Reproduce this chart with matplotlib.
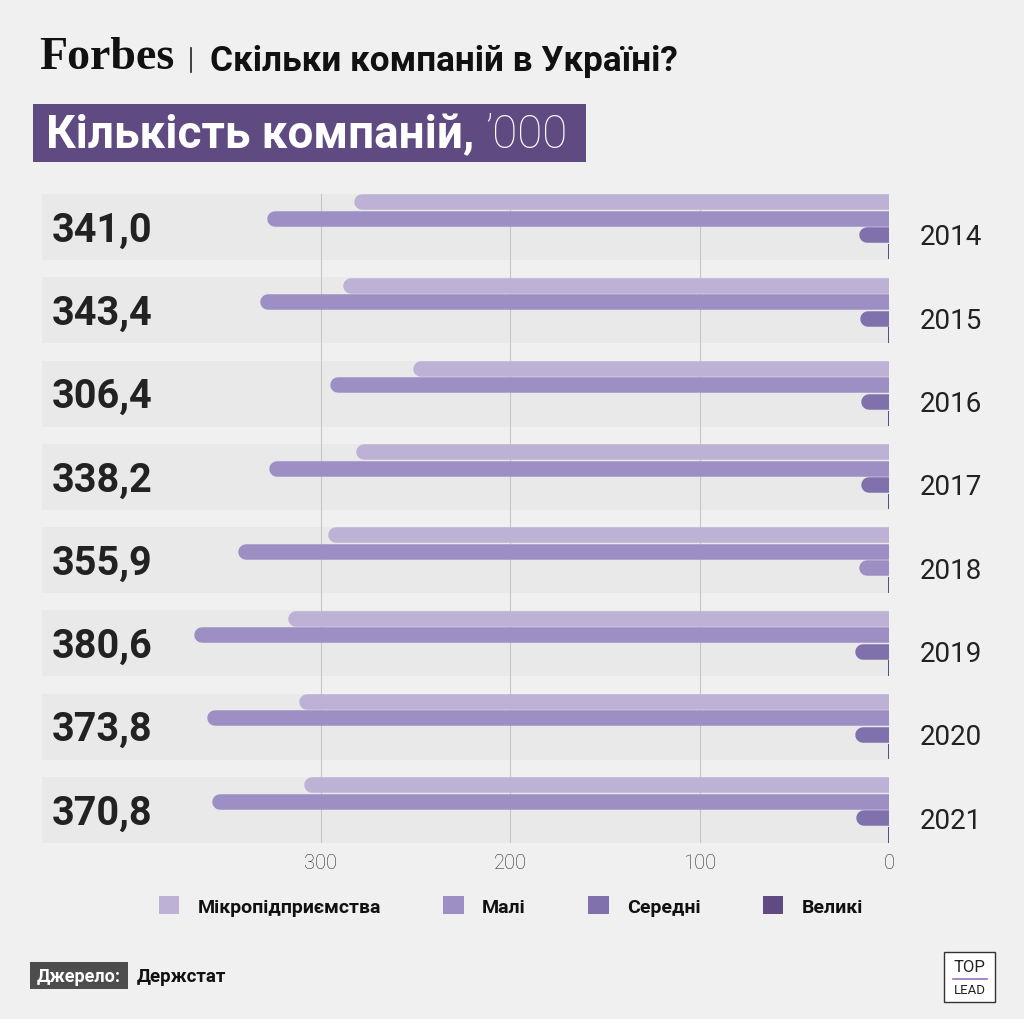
import matplotlib
matplotlib.use("Agg")
import matplotlib.pyplot as plt
from matplotlib.patches import Patch, Rectangle
from matplotlib.lines import Line2D
import matplotlib.transforms as mtransforms

# ---------------- data ----------------
years = ['2014', '2015', '2016', '2017', '2018', '2019', '2020', '2021']
totals = [341.0, 343.4, 306.4, 338.2, 355.9, 380.6, 373.8, 370.8]
micro = [282, 288, 251, 281, 296, 317, 311.5, 308.5]
small = [328, 332, 295, 327, 343.5, 366.5, 360, 357]
medium = [15.6, 15.1, 14.6, 14.9, 15.9, 17.8, 17.6, 17.3]
large = [0.5, 0.4, 0.4, 0.4, 0.45, 0.5, 0.5, 0.5]
series_names = ['Мікропідприємства', 'Малі', 'Середні', 'Великі']
xticks = [300, 200, 100, 0]

# ---------------- style ----------------
BG = '#f0f0f0'
BAND = '#e9e9e9'
COLORS = ['#bdb1d6', '#9d8fc4', '#8070ac', '#5f4b82']
medium_color_override = {'2018': COLORS[1]}
FONT = 'Roboto'

W, H, DPI = 1024, 1020, 100
fig = plt.figure(figsize=(W / DPI, H / DPI), dpi=DPI, facecolor=BG)

def fx(px):
    return px / W

def fy(py):
    return 1 - py / H

ax_l, ax_r, ax_t, ax_b = 42, 889, 195, 844
ax = fig.add_axes([fx(ax_l), fy(ax_b), fx(ax_r - ax_l), (ax_b - ax_t) / H])
ax.set_facecolor('none')
XMAX = 447
ax.set_xlim(XMAX, 0)
half = 0.396
ax.set_ylim(len(years) - 1 + half, -half)
for s in ax.spines.values():
    s.set_visible(False)

bar_h = 0.186
offsets = [-0.297, -0.099, 0.099, 0.297]
lw_px = 15.5
lw_pt = lw_px * 72 / DPI
px_per_unit = (ax_r - ax_l) / XMAX
r_data = (lw_px / 2) / px_per_unit

for i, y in enumerate(years):
    ax.axhspan(i - half, i + half, color=BAND, lw=0, zorder=0)

for v in [300, 200, 100]:
    ax.axvline(v, color='#c6c6c6', lw=0.8, zorder=1)

tr = mtransforms.blended_transform_factory(fig.transFigure, ax.transData)
for i, y in enumerate(years):
    vals = [micro[i], small[i], medium[i]]
    cols = [COLORS[0], COLORS[1], medium_color_override.get(y, COLORS[2])]
    for k in range(3):
        ax.plot([vals[k] - r_data, -3 * r_data], [i + offsets[k]] * 2,
                color=cols[k], lw=lw_pt, solid_capstyle='round', zorder=3)
    ax.barh(i + offsets[3], large[i], height=bar_h, color=COLORS[3], lw=0, zorder=3)

    ax.text(fx(52), i + 0.03, f'{totals[i]:.1f}'.replace('.', ','), transform=tr,
            fontsize=28.5, fontweight='bold', family=FONT, color='#222222',
            ha='left', va='center', zorder=5)
    ax.text(fx(951), i + 0.12, y, transform=tr,
            fontsize=20, family=FONT, color='#222222', ha='center', va='center')

ax.set_yticks([])
ax.set_xticks(xticks)
ax.set_xticklabels([str(t) for t in xticks], fontsize=14.5, family=FONT,
                   fontweight='light', color='#2a2a2a')
ax.tick_params(axis='x', length=0, pad=7)

# ---------------- header ----------------
fig.text(fx(39), fy(58), 'Forbes', family='Liberation Serif', fontweight='bold',
         fontsize=33, color='#111111', ha='left', va='center')
fig.add_artist(Line2D([fx(191), fx(191)], [fy(49), fy(73)], color='#222222', lw=1.2))
fig.text(fx(210), fy(61), 'Скільки компаній в Україні?', family=FONT,
         fontweight='bold', fontsize=25.3, color='#111111', ha='left', va='center')

fig.add_artist(Rectangle((fx(33), fy(163)), fx(586 - 33), (163 - 105) / H,
                         transform=fig.transFigure, color='#5f4b82', lw=0))
t1 = fig.text(fx(46), fy(135), 'Кількість компаній, ', family=FONT, fontweight='bold',
              fontsize=33, color='white', ha='left', va='center')
fig.canvas.draw()
bb = t1.get_window_extent()
fig.text(bb.x1 / W, fy(135), '’000', family=FONT, fontweight='light',
         fontsize=33, color='white', ha='left', va='center')

# ---------------- legend ----------------
handles = [Patch(facecolor=c, edgecolor='none') for c in COLORS]
fig.legend(handles, series_names, loc='center', bbox_to_anchor=(fx(511), fy(907)),
           ncol=4, frameon=False, prop={'family': FONT, 'weight': 'bold', 'size': 14},
           handlelength=1.05, handleheight=1.05, handletextpad=0.95, columnspacing=3.2,
           labelcolor='#111111')

# ---------------- footer ----------------
fig.add_artist(Rectangle((fx(30), fy(990)), fx(128 - 30), (990 - 963) / H,
                         transform=fig.transFigure, color='#4d4d4d', lw=0))
fig.text(fx(79), fy(977), 'Джерело:', family=FONT, fontweight='bold', fontsize=13,
         color='white', ha='center', va='center')
fig.text(fx(137), fy(977), 'Держстат', family=FONT, fontweight='bold', fontsize=13.5,
         color='#111111', ha='left', va='center')

fig.add_artist(Rectangle((fx(944), fy(1003)), fx(51), 50 / H, transform=fig.transFigure,
                         facecolor='white', edgecolor='#333333', lw=1))
fig.text(fx(969.5), fy(968), 'TOP', family=FONT, fontsize=12, color='#222222',
         ha='center', va='center')
fig.add_artist(Line2D([fx(953), fx(987)], [fy(980), fy(980)], color='#9b6fc4', lw=1.2))
fig.text(fx(969.5), fy(991), 'LEAD', family=FONT, fontsize=9.5, color='#222222',
         ha='center', va='center')

fig.savefig('out.png', dpi=DPI, facecolor=BG)
